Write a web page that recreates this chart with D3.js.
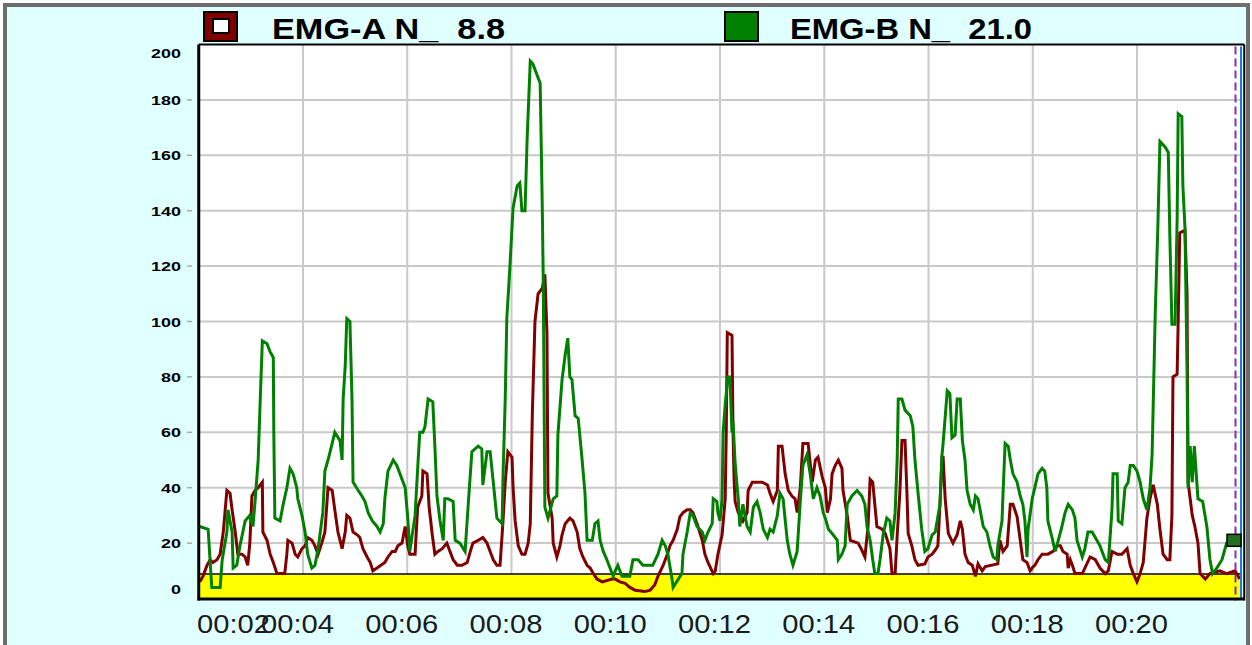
<!DOCTYPE html>
<html><head><meta charset="utf-8">
<script src="https://cdn.jsdelivr.net/npm/d3@7"></script>
<style>
html,body{margin:0;padding:0;background:#fff;}
svg{display:block;}
text{white-space:pre;}
</style></head>
<body>
<svg id="chart" width="1252" height="645"></svg>
<script>
// ---------------- data ----------------
const seriesNames = ["EMG-A N_", "EMG-B N_"];
const seriesReadouts = ["8.8", "21.0"];
const seriesColors = ["#800000", "#008000"];
const threshold = 8.8;

const xTicks = [2, 4, 6, 8, 10, 12, 14, 16, 18, 20];
const xTickLabels = ["00:02", "00:04", "00:06", "00:08", "00:10", "00:12", "00:14", "00:16", "00:18", "00:20"];
const yTicks = [0, 20, 40, 60, 80, 100, 120, 140, 160, 180, 200];

// EMG-A (red)
const emgATimes = [2.02,2.08,2.16,2.22,2.27,2.35,2.41,2.47,2.54,2.60,2.64,2.70,2.75,2.83,2.89,2.94,2.98,3.02,3.08,3.14,3.22,3.23,3.31,3.37,3.43,3.50,3.65,3.69,3.71,3.79,3.85,3.90,3.98,4.04,4.09,4.17,4.23,4.29,4.36,4.42,4.48,4.56,4.61,4.67,4.75,4.81,4.84,4.90,4.96,5.04,5.09,5.15,5.23,5.29,5.34,5.42,5.57,5.63,5.71,5.77,5.82,5.90,5.96,6.01,6.05,6.15,6.20,6.28,6.30,6.38,6.42,6.48,6.53,6.59,6.67,6.76,6.82,6.88,6.96,7.05,7.15,7.21,7.26,7.36,7.45,7.53,7.59,7.65,7.72,7.78,7.82,7.84,7.88,7.93,8.01,8.03,8.07,8.13,8.20,8.26,8.32,8.36,8.40,8.45,8.51,8.59,8.64,8.68,8.70,8.78,8.80,8.87,8.93,8.97,9.03,9.12,9.18,9.26,9.31,9.37,9.45,9.51,9.57,9.64,9.74,9.93,9.99,10.08,10.18,10.27,10.37,10.56,10.66,10.75,10.81,10.91,10.99,11.04,11.10,11.18,11.23,11.29,11.37,11.43,11.48,11.56,11.66,11.71,11.77,11.87,11.91,11.96,12.04,12.10,12.12,12.14,12.23,12.25,12.27,12.29,12.35,12.44,12.52,12.54,12.62,12.71,12.81,12.91,12.96,13.02,13.10,13.12,13.19,13.25,13.31,13.38,13.44,13.48,13.54,13.59,13.69,13.77,13.83,13.88,13.96,14.02,14.06,14.12,14.15,14.21,14.27,14.34,14.36,14.44,14.50,14.65,14.72,14.78,14.84,14.88,14.93,14.97,15.01,15.11,15.17,15.26,15.30,15.36,15.40,15.45,15.49,15.55,15.59,15.61,15.68,15.74,15.80,15.93,15.99,16.07,16.13,16.18,16.22,16.26,16.28,16.32,16.38,16.47,16.55,16.61,16.65,16.70,16.76,16.84,16.90,16.95,17.03,17.09,17.33,17.37,17.43,17.51,17.57,17.62,17.70,17.76,17.81,17.89,17.95,18.01,18.04,18.10,18.18,18.29,18.39,18.47,18.53,18.58,18.66,18.68,18.72,18.76,18.81,18.95,19.00,19.10,19.20,19.29,19.39,19.45,19.52,19.62,19.71,19.81,19.87,19.93,20.00,20.06,20.12,20.19,20.25,20.31,20.39,20.44,20.50,20.58,20.63,20.67,20.69,20.77,20.79,20.82,20.92,20.96,20.98,21.06,21.11,21.17,21.21,21.31,21.40,21.59,21.72,21.88,21.97];
const emgAValues = [6,8,12,14,13,14,16,24,39,38,32,24,16,16,15,12,20,37,39,40,42,24,21,16,13,9,9,16,21,20,16,15,18,19,22,21,19,16,20,24,40,39,32,24,18,24,30,29,24,23,22,18,15,13,10,11,13,15,17,17,19,20,26,19,16,16,33,37,46,45,33,23,16,17,18,20,17,14,12,12,13,17,20,21,22,20,17,14,12,12,23,29,42,53,51,40,28,19,16,16,20,27,67,100,110,112,117,96,38,29,20,15,19,23,27,29,28,24,18,15,12,11,9,7,6,7,7,6,5.5,4,3,2.5,3,5,8,12,16,19,21,25,29.5,31,32,32,31,27,21,16,13,9,10,16,23,36,60,96,95,60,43,35,31,28,31,39,42,42,42,41,38,35,39,55,55,45,39,37,36,31,40,56,56,42,50,51,44,40,31,36,45,48,50,47,39,30,21,20,17.5,15,26,43,42,34,26,25,23.5,18,9,9,23,38,57,57,36,23.5,19,14,12,12.5,15,16,17.5,19,34,51,51,36,23.5,20,23,28,25,16,13,12,8,12.5,10,11.5,12.5,21,17,19,34,34,29.5,21,14,13,10,11.5,12,14,16,16,17,19,19,17,16,11,14,12,9,9,11,15,14,11,9,10,17,16,16,18,12,9,6,9,13,29,36,41,34,25,16,14,14,30,80,81,100,132,133,110,42,30,26,20,9,7,9,10,9,10,7];

// EMG-B (green)
const emgBTimes = [2.02,2.18,2.25,2.41,2.45,2.54,2.56,2.64,2.66,2.73,2.79,2.89,2.98,3.04,3.08,3.14,3.18,3.22,3.31,3.37,3.43,3.44,3.46,3.56,3.62,3.69,3.75,3.81,3.88,3.90,3.98,4.04,4.09,4.17,4.23,4.29,4.38,4.42,4.48,4.56,4.61,4.71,4.75,4.77,4.81,4.84,4.90,4.94,4.96,5.06,5.13,5.19,5.25,5.33,5.42,5.48,5.54,5.57,5.63,5.73,5.80,5.90,5.96,6.01,6.05,6.15,6.20,6.24,6.30,6.34,6.40,6.49,6.53,6.57,6.63,6.69,6.72,6.78,6.88,6.92,7.01,7.11,7.17,7.24,7.30,7.36,7.43,7.45,7.53,7.59,7.65,7.72,7.82,7.84,7.88,7.91,7.97,8.03,8.11,8.16,8.20,8.26,8.30,8.36,8.41,8.49,8.55,8.59,8.61,8.64,8.70,8.80,8.87,8.89,8.97,9.03,9.08,9.12,9.16,9.22,9.28,9.35,9.41,9.45,9.55,9.60,9.66,9.70,9.76,9.83,9.89,9.95,9.99,10.04,10.12,10.27,10.33,10.43,10.52,10.71,10.81,10.89,10.95,11.00,11.08,11.10,11.20,11.27,11.29,11.37,11.43,11.48,11.56,11.66,11.71,11.77,11.85,11.87,11.94,11.96,12.00,12.04,12.06,12.10,12.15,12.19,12.23,12.25,12.29,12.33,12.35,12.38,12.44,12.52,12.58,12.64,12.71,12.77,12.83,12.91,12.96,13.02,13.10,13.15,13.21,13.29,13.34,13.40,13.48,13.54,13.59,13.67,13.73,13.79,13.86,13.92,13.98,14.02,14.08,14.17,14.25,14.27,14.34,14.40,14.44,14.53,14.63,14.72,14.78,14.82,14.88,14.93,14.97,15.03,15.07,15.13,15.20,15.26,15.30,15.36,15.40,15.42,15.49,15.55,15.65,15.70,15.74,15.80,15.87,15.93,15.99,16.07,16.13,16.22,16.26,16.28,16.36,16.41,16.45,16.51,16.55,16.61,16.65,16.70,16.74,16.80,16.86,16.90,16.95,16.99,17.05,17.12,17.18,17.24,17.31,17.33,17.41,17.43,17.47,17.53,17.57,17.62,17.70,17.76,17.81,17.85,17.89,17.91,17.99,18.04,18.10,18.18,18.23,18.27,18.29,18.37,18.43,18.49,18.56,18.62,18.68,18.76,18.81,18.85,18.95,19.00,19.06,19.14,19.20,19.29,19.39,19.45,19.52,19.54,19.62,19.64,19.71,19.77,19.83,19.87,19.93,20.00,20.06,20.12,20.19,20.25,20.29,20.35,20.40,20.44,20.54,20.60,20.63,20.67,20.73,20.77,20.79,20.86,20.88,20.92,20.96,20.98,21.02,21.06,21.10,21.17,21.26,21.34,21.40,21.45,21.53,21.63,21.72,21.82,21.88];
const emgBValues = [26,25,4,4,14,24,32,24,11,12,19,28,30,26,35,50,72,93,92,89,87,60,29,28,34,40,47,45,40,36,30,24,16,11,12,18,31,46,50,56,60,57,50,72,84,101,100,72,42,39,37,35,31,28,26,24,27,36,46,50,48,43,40,29,17,30,47,60,60,62,72,71,55,37,28,21,36,36,35,21,20,17,34,53,54,55,54,41,53,53,42,29,27,46,72,101,120,141,149,150,140,140,166,194,193,189,186,142,114,33,29,36,37,59,79,88,94,80,79,66,65,51,38,21,21,27,28,21,17,14,11,8,10,12,8,8,14,14,12,12,16,21,19,16,7,4,7,9,16,24,31,30,26,24,21,24,27,36,35,31,28,36,60,70,80,80,60,64,49,40,36,26,34,26,24,33,35,31,25,22,25,24,30,38,36,21,16,12,17,35,48,52,45,36,40,37,31,29,25,23,21,14,16,19,34,37,39,37,34,26,21,14,9,9,14,23,29,28,21,31,51,72,72,68,66,62,50,38,25,17,18,23,24,34,52,56,75,74,58,59,72,72,57,50,39,34,32,37,36,32,26,24,19,15,14,19,28,38,56,55,50,45,42,37,34,28,15,25,36,40,45,47,46,40,28,22,17,21,26,31,34,32,29,21,15,18,24,24,22,19,14,13,32,45,45,28,27,40,42,48,48,46,42,36,32,40,52,103,134,165,163,161,131,99,99,137,175,174,149,134,83,40,55,42,55,36,35,26,14,9,11,14,20,21,21];

// ---------------- layout ----------------
const svg = d3.select("#chart");
const W = 1252, H = 645;
const x = d3.scaleLinear().domain([2, 22]).range([198.75, 1241.25]);
const y = d3.scaleLinear().domain([0, 200]).range([598.5, 44.5]);
const plotL = x(2), plotR = x(22), plotT = y(200), plotB = y(0);

// background + outer frame
svg.append("rect").attr("x", 0).attr("y", 0).attr("width", W).attr("height", H).attr("fill", "#ffffff");
svg.append("rect").attr("x", 5).attr("y", 5).attr("width", W - 9).attr("height", H + 10)
  .attr("fill", "#e0ffff").attr("stroke", "#6e6e6e").attr("stroke-width", 4);

// plot area
svg.append("rect").attr("x", plotL).attr("y", plotT).attr("width", plotR - plotL).attr("height", plotB - plotT)
  .attr("fill", "#ffffff");

// grid
const grid = svg.append("g").attr("stroke", "#c9c9c9").attr("stroke-width", 2);
grid.selectAll("line.h").data(yTicks.filter(v => v > 0 && v < 200)).enter().append("line")
  .attr("x1", plotL).attr("x2", plotR).attr("y1", d => y(d)).attr("y2", d => y(d));
grid.selectAll("line.v").data(xTicks.filter(v => v > 2)).enter().append("line")
  .attr("x1", d => x(d)).attr("x2", d => x(d)).attr("y1", plotT).attr("y2", plotB);

// threshold band
svg.append("rect").attr("x", plotL).attr("y", y(threshold)).attr("width", plotR - plotL)
  .attr("height", y(0) - y(threshold)).attr("fill", "#ffff00");
svg.append("line").attr("x1", plotL).attr("x2", plotR).attr("y1", y(threshold)).attr("y2", y(threshold))
  .attr("stroke", "#000").attr("stroke-width", 1.5);

// series
const line = d3.line().x(d => x(d[0])).y(d => y(d[1]));
const redData = emgATimes.map((t, i) => [t, emgAValues[i]]);
const greenData = emgBTimes.map((t, i) => [t, emgBValues[i]]);
svg.append("clipPath").attr("id", "pc").append("rect")
  .attr("x", plotL).attr("y", plotT).attr("width", plotR - plotL).attr("height", plotB - plotT);
const series = svg.append("g").attr("clip-path", "url(#pc)");
series.append("path").datum(redData).attr("d", line).attr("fill", "none")
  .attr("stroke", seriesColors[0]).attr("stroke-width", 3).attr("stroke-linejoin", "miter");
series.append("path").datum(greenData).attr("d", line).attr("fill", "none")
  .attr("stroke", seriesColors[1]).attr("stroke-width", 3).attr("stroke-linejoin", "miter");

// cursor lines
svg.append("line").attr("x1", 1235.5).attr("x2", 1235.5).attr("y1", plotT + 2).attr("y2", plotB + 2)
  .attr("stroke", "#9a2aa0").attr("stroke-width", 2).attr("stroke-dasharray", "8,4");
svg.append("line").attr("x1", 1241).attr("x2", 1241).attr("y1", plotT + 2).attr("y2", plotB)
  .attr("stroke", "#1a7ae0").attr("stroke-width", 2);

// end marker
svg.append("rect").attr("x", 1227).attr("y", y(+seriesReadouts[1]) - 6).attr("width", 14).attr("height", 12)
  .attr("fill", "#207020").attr("stroke", "#000").attr("stroke-width", 1.5);

// plot frame
svg.append("line").attr("x1", plotL).attr("x2", plotR + 3).attr("y1", plotT).attr("y2", plotT).attr("stroke", "#000").attr("stroke-width", 2);
svg.append("line").attr("x1", plotL).attr("x2", plotL).attr("y1", plotT).attr("y2", plotB + 2).attr("stroke", "#000").attr("stroke-width", 3);
svg.append("line").attr("x1", plotL - 1).attr("x2", plotR + 3).attr("y1", plotB + 0.5).attr("y2", plotB + 0.5).attr("stroke", "#000").attr("stroke-width", 3);
svg.append("line").attr("x1", plotR + 3).attr("x2", plotR + 3).attr("y1", plotT).attr("y2", plotB + 2).attr("stroke", "#000").attr("stroke-width", 2);

// y axis ticks & labels
const yg = svg.append("g");
yg.selectAll("line").data(yTicks.filter(v => v > 0 && v < 200)).enter().append("line")
  .attr("x1", 187).attr("x2", 192).attr("y1", d => y(d)).attr("y2", d => y(d))
  .attr("stroke", "#aaaaaa").attr("stroke-width", 1.5);
yg.selectAll("text").data(yTicks).enter().append("text")
  .attr("x", 181)
  .attr("y", d => d === 200 ? 58 : d === 0 ? 594 : y(d) + 5)
  .attr("text-anchor", "end")
  .attr("font-family", "Liberation Sans, Arial, sans-serif").attr("font-weight", "bold").attr("font-size", 13)
  .attr("textLength", d => String(d).length * 10).attr("lengthAdjust", "spacingAndGlyphs")
  .attr("fill", "#000").text(d => d);

// x labels
const xg = svg.append("g");
xg.selectAll("text").data(xTicks).enter().append("text")
  .attr("x", (d, i) => i === 0 ? 197 : x(d) - 42)
  .attr("y", 633)
  .attr("font-family", "Liberation Sans, Arial, sans-serif").attr("font-size", 25)
  .attr("textLength", 73).attr("lengthAdjust", "spacingAndGlyphs")
  .attr("fill", "#1a1a1a").text((d, i) => xTickLabels[i]);

// legend
const legX = [204, 725];
const legTextX = [272, 790];
const legLen = [233, 242];
seriesNames.forEach((name, i) => {
  svg.append("rect").attr("x", legX[i]).attr("y", 12).attr("width", 33).attr("height", 29)
    .attr("fill", i === 0 ? "#800000" : "#008000").attr("stroke", "#000").attr("stroke-width", 2);
  if (i === 0) {
    svg.append("rect").attr("x", legX[i] + 9).attr("y", 19).attr("width", 16).attr("height", 14)
      .attr("fill", "#ffffff").attr("stroke", "#000").attr("stroke-width", 2);
  }
  svg.append("text").attr("x", legTextX[i]).attr("y", 39)
    .attr("font-family", "Liberation Sans, Arial, sans-serif").attr("font-weight", "bold").attr("font-size", 30)
    .attr("textLength", legLen[i]).attr("lengthAdjust", "spacingAndGlyphs")
    .attr("fill", "#000").text(name + "  " + seriesReadouts[i]);
});
</script>
</body></html>
